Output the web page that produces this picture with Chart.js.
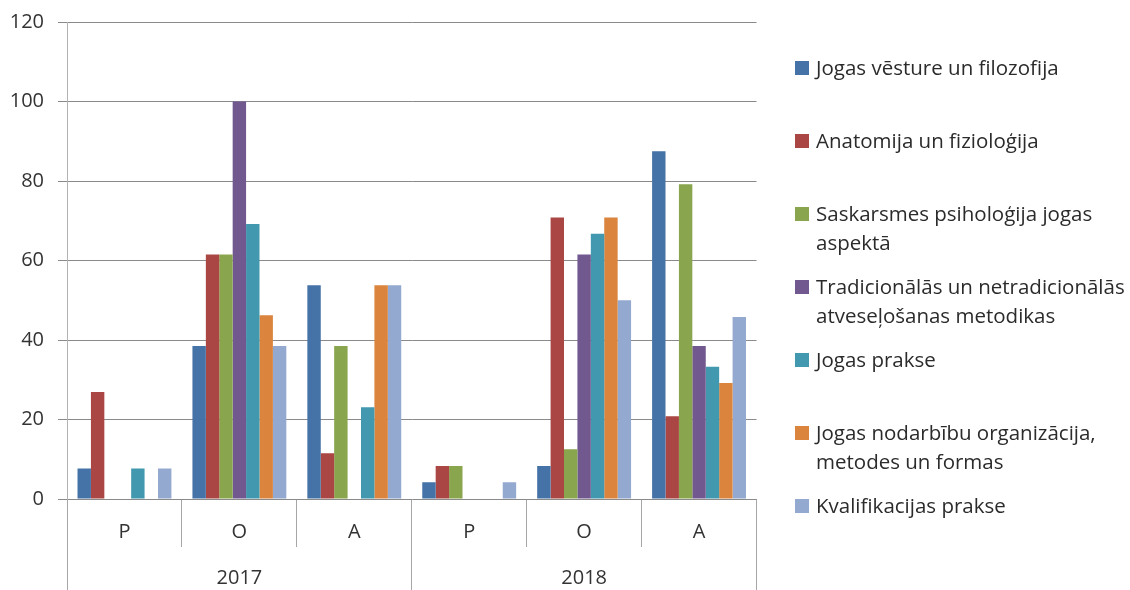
<!DOCTYPE html>
<html lang="lv">
<head>
<meta charset="utf-8">
<script src="https://cdn.jsdelivr.net/npm/chart.js@4/dist/chart.umd.min.js"></script>
<style>
    body { margin: 0; background: #fff; }
    #wrap { position: relative; width: 1130px; height: 590px; }
    #legend { position: absolute; left: 795px; top: 0; font-family: "Open Sans", sans-serif; font-size: 20.5px; color: #2b2b2b; }
    .item { position: absolute; left: 0; white-space: nowrap; }
    .box { position: absolute; left: 0; top: 8px; width: 14px; height: 14px; }
    .txt { position: absolute; left: 21px; top: 0; line-height: 29px; }
</style>
</head>
<body>
<div id="wrap">
    <canvas id="chart"></canvas>
    <div id="legend"></div>
</div>
<script>
// Kategorijas (līmenis + gads)
const levels = ['P', 'O', 'A', 'P', 'O', 'A'];
const years = ['2017', '2018'];

// Sēriju nosaukumi (rindas kā leģendā)
const seriesNames = [
    ['Jogas vēsture un filozofija'],
    ['Anatomija un fizioloģija'],
    ['Saskarsmes psiholoģija jogas', 'aspektā'],
    ['Tradicionālās un netradicionālās', 'atveseļošanas metodikas'],
    ['Jogas prakse'],
    ['Jogas nodarbību organizācija,', 'metodes un formas'],
    ['Kvalifikacijas prakse']
];

// Vērtības katrai sērijai (P, O, A 2017; P, O, A 2018)
const vesture      = [7.7, 38.5, 53.8, 4.2, 8.3, 87.5];
const anatomija    = [26.9, 61.5, 11.5, 8.3, 70.8, 20.8];
const saskarsme    = [0, 61.5, 38.5, 8.3, 12.5, 79.2];
const tradicionalas = [0, 100, 0, 0, 61.5, 38.5];
const prakse       = [7.7, 69.2, 23.1, 0, 66.7, 33.3];
const organizacija = [0, 46.2, 53.8, 0, 70.8, 29.2];
const kvalifikacija = [7.7, 38.5, 53.8, 4.2, 50, 45.8];

const yTicks = [0, 20, 40, 60, 80, 100, 120];

const colors = ['#4572A7', '#AA4643', '#89A54E', '#71588F', '#4198AF', '#DB843D', '#93A9CF'];
const seriesValues = [vesture, anatomija, saskarsme, tradicionalas, prakse, organizacija, kvalifikacija];

const font = { family: '"Open Sans", sans-serif', size: 20 };
const textColor = '#333333';

const datasets = seriesValues.map((vals, i) => ({
    label: seriesNames[i].join(' '),
    lines: seriesNames[i],
    data: vals,
    backgroundColor: colors[i],
    borderWidth: 0,
    categoryPercentage: 0.817,
    barPercentage: 1
}));

const chart = new Chart(document.getElementById('chart'), {
    type: 'bar',
    data: { labels: levels, datasets: datasets },
    options: {
        responsive: true,
        maintainAspectRatio: false,
        animation: false,
        layout: { padding: { top: 22, right: 373.5, bottom: 0, left: 0 } },
        plugins: { legend: { display: false }, tooltip: { enabled: false } },
        scales: {
            x: {
                offset: true,
                grid: { offset: true, drawOnChartArea: false, drawTicks: true, tickLength: 48, color: '#a6a6a6' },
                border: { display: false },
                ticks: { font: font, color: textColor, padding: -27 },
                afterFit: s => { s.height = 48; }
            },
            x2: {
                type: 'category',
                labels: years,
                position: 'bottom',
                offset: true,
                grid: { offset: true, drawOnChartArea: false, drawTicks: true, tickLength: 43, color: '#a6a6a6' },
                border: { display: false },
                ticks: { font: font, color: textColor, padding: -24 },
                afterFit: s => { s.height = 43; }
            },
            y: {
                min: 0,
                max: 120,
                afterBuildTicks: s => { s.ticks = yTicks.map(v => ({ value: v })); },
                grid: { color: '#8a8a8a', tickLength: 9, drawTicks: true },
                border: { color: '#b3b3b3' },
                ticks: { font: font, color: textColor, padding: 14 },
                // largeur fixe, pas de marge auto en haut
                afterFit: s => { s.width = 67; s.paddingTop = 0; s.paddingBottom = 0; }
            }
        }
    }
});

// Leģenda ar rindu pārnesumiem
const legend = document.getElementById('legend');
chart.data.datasets.forEach((ds, i) => {
    const item = document.createElement('div');
    item.className = 'item';
    item.style.top = (52.5 + 73 * i) + 'px';
    item.innerHTML = `<span class="box" style="background:${ds.backgroundColor}"></span>
        <span class="txt">${ds.lines.join('<br>')}</span>`;
    legend.appendChild(item);
});
</script>
</body>
</html>
